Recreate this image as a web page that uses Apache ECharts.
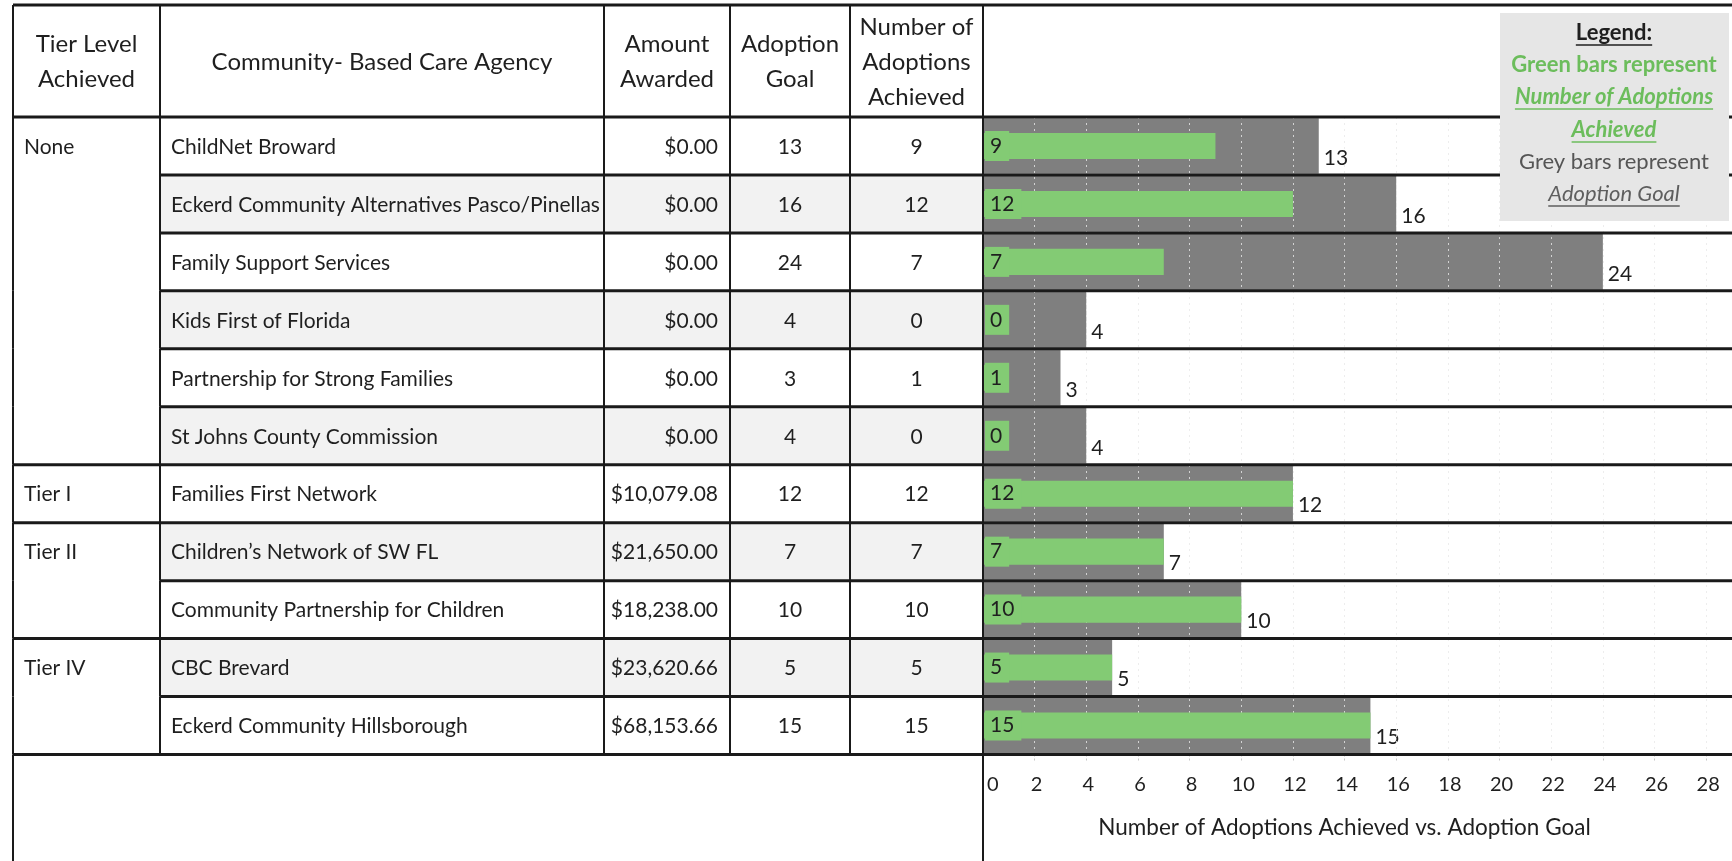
<!DOCTYPE html>
<html>
<head>
<meta charset="utf-8">
<script src="https://cdn.jsdelivr.net/npm/echarts@6/dist/echarts.min.js"></script>
<style>
  html, body { margin: 0; padding: 0; background: #fff; }
  #c { width: 1732px; height: 861px; }
</style>
</head>
<body>
<div id="c"></div>
<script>
// ---------------- DATA ----------------
const tiers = ['None', 'None', 'None', 'None', 'None', 'None', 'Tier I', 'Tier II', 'Tier II', 'Tier IV', 'Tier IV'];
const agencies = [
  'ChildNet Broward',
  'Eckerd Community Alternatives Pasco/Pinellas',
  'Family Support Services',
  'Kids First of Florida',
  'Partnership for Strong Families',
  'St Johns County Commission',
  'Families First Network',
  'Children\u2019s Network of SW FL',
  'Community Partnership for Children',
  'CBC Brevard',
  'Eckerd Community Hillsborough'
];
const amounts = ['$0.00', '$0.00', '$0.00', '$0.00', '$0.00', '$0.00', '$10,079.08', '$21,650.00', '$18,238.00', '$23,620.66', '$68,153.66'];
const goals = [13, 16, 24, 4, 3, 4, 12, 7, 10, 5, 15];
const achieved = [9, 12, 7, 0, 1, 0, 12, 7, 10, 5, 15];
const headers = ['Tier Level\nAchieved', 'Community- Based Care Agency', 'Amount\nAwarded', 'Adoption\nGoal', 'Number of\nAdoptions\nAchieved'];
const axisTitle = 'Number of Adoptions Achieved vs. Adoption Goal';
const axisMin = 0, axisMax = 29, axisStep = 2;
const legendLines = ['Legend:', 'Green bars represent', 'Number of Adoptions', 'Achieved', 'Grey bars represent', 'Adoption Goal'];

// ---------------- LAYOUT / STYLE ----------------
const W = 1732, H = 861;
const FONT = "Lato, 'Noto Sans', sans-serif";
const colX = [13, 160, 604, 730, 850, 983];
const TOP = 5, HEAD_BOTTOM = 117, TABLE_BOTTOM = 754.5;
const BODY = 21, HEAD = 24;
const TXT = '#1f1f1f';
const LINE = '#1a1a1a';
const GREEN = '#83cb74', GREY = '#7f7f7f';

const chart = echarts.init(document.getElementById('c'), null, { renderer: 'canvas', width: W, height: H });

const measureCtx = document.createElement('canvas').getContext('2d');
function textWidth(s, font) { measureCtx.font = font; return measureCtx.measureText(s).width; }

function renderRow(params, api) {
  const i = params.dataIndex;
  const c = api.coord([0, i]);
  const h = api.size([0, 1])[1];
  const yc = c[1], y0 = yc - h / 2, y1 = yc + h / 2;
  const ch = [];
  if (i % 2 === 1) {
    ch.push({ type: 'rect', shape: { x: colX[1], y: y0, width: colX[5] - colX[1], height: h }, style: { fill: '#f2f2f2' }, z2: 0 });
  }
  const txt = (x, s, align) => ({
    type: 'text', x: x, y: yc + 1,
    style: { text: s, align: align, verticalAlign: 'middle', fontSize: BODY, fontFamily: FONT, fill: TXT }, z2: 2
  });
  const firstOfGroup = i === 0 || tiers[i - 1] !== tiers[i];
  const groupEnd = i === agencies.length - 1 || tiers[i + 1] !== tiers[i];
  if (firstOfGroup) ch.push(txt(colX[0] + 11, tiers[i], 'left'));
  ch.push(txt(colX[1] + 11, agencies[i], 'left'));
  ch.push(txt(colX[3] - 12, amounts[i], 'right'));
  ch.push(txt((colX[3] + colX[4]) / 2, String(goals[i]), 'center'));
  ch.push(txt((colX[4] + colX[5]) / 2, String(achieved[i]), 'center'));
  if (i === 0) {
    ch.push({ type: 'line', shape: { x1: colX[0], y1: y0, x2: W, y2: y0 }, style: { stroke: LINE, lineWidth: 3 }, z2: 5 });
  }
  ch.push({ type: 'line', shape: { x1: groupEnd ? colX[0] : colX[1], y1: y1, x2: W, y2: y1 }, style: { stroke: LINE, lineWidth: 3 }, z2: 5 });
  colX.forEach(x => {
    ch.push({ type: 'line', shape: { x1: x, y1: y0, x2: x, y2: y1 }, style: { stroke: LINE, lineWidth: 2 }, z2: 5 });
  });
  return { type: 'group', children: ch };
}

// header + frame graphics
const graphics = [];
graphics.push({ type: 'line', shape: { x1: colX[0], y1: TOP, x2: W, y2: TOP }, style: { stroke: LINE, lineWidth: 3 }, z: 20 });
colX.forEach(x => {
  graphics.push({ type: 'line', shape: { x1: x, y1: TOP, x2: x, y2: HEAD_BOTTOM }, style: { stroke: LINE, lineWidth: 2 }, z: 20 });
});
[colX[0], colX[5]].forEach(x => {
  graphics.push({ type: 'line', shape: { x1: x, y1: TABLE_BOTTOM, x2: x, y2: H }, style: { stroke: LINE, lineWidth: 2 }, z: 20 });
});
const headCenters = [(colX[0] + colX[1]) / 2, (colX[1] + colX[2]) / 2, (colX[2] + colX[3]) / 2, (colX[3] + colX[4]) / 2, (colX[4] + colX[5]) / 2];
headers.forEach((t, k) => {
  graphics.push({
    type: 'text', x: headCenters[k], y: (TOP + HEAD_BOTTOM) / 2 + 1,
    style: { text: t, align: 'center', verticalAlign: 'middle', fontSize: HEAD, fontFamily: FONT, fill: TXT, lineHeight: 35 }, z: 20
  });
});

// legend box
const LEG = { x: 1500, y: 13, w: 229, h: 208, cx: 1614 };
graphics.push({ type: 'rect', shape: { x: LEG.x, y: LEG.y, width: LEG.w, height: LEG.h }, style: { fill: '#e6e6e6' }, z: 30 });
const legStyles = [
  { fill: '#1f1f1f', fontWeight: 'bold', fontStyle: 'normal', underline: true },
  { fill: '#6cbd5c', fontWeight: 'bold', fontStyle: 'normal', underline: false },
  { fill: '#6cbd5c', fontWeight: 'bold', fontStyle: 'italic', underline: true },
  { fill: '#6cbd5c', fontWeight: 'bold', fontStyle: 'italic', underline: true },
  { fill: '#555555', fontWeight: 'normal', fontStyle: 'normal', underline: false },
  { fill: '#5e5e5e', fontWeight: 'normal', fontStyle: 'italic', underline: true }
];
const legY = [33, 65, 97, 130, 162, 194];
const LEG_FS = 22;
legendLines.forEach((t, k) => {
  const st = legStyles[k];
  graphics.push({
    type: 'text', x: LEG.cx, y: legY[k],
    style: { text: t, align: 'center', verticalAlign: 'middle', fontSize: LEG_FS, fontFamily: FONT, fontWeight: st.fontWeight, fontStyle: st.fontStyle, fill: st.fill }, z: 31
  });
  if (st.underline) {
    const w = textWidth(t, `${st.fontStyle} ${st.fontWeight} ${LEG_FS}px ${FONT}`);
    graphics.push({ type: 'line', shape: { x1: LEG.cx - w / 2, y1: legY[k] + 12, x2: LEG.cx + w / 2, y2: legY[k] + 12 }, style: { stroke: st.fill, lineWidth: 1.5 }, z: 31 });
  }
});

const option = {
  animation: false,
  backgroundColor: '#ffffff',
  grid: { left: colX[5], right: 0, top: HEAD_BOTTOM, bottom: H - TABLE_BOTTOM, containLabel: false },
  xAxis: {
    type: 'value', min: axisMin, max: axisMax, interval: axisStep, z: 1,
    axisLine: { show: false },
    axisTick: { show: true, length: 8, lineStyle: { color: '#c8c8c8', type: [2, 2] } },
    axisLabel: { fontSize: 20, fontFamily: FONT, color: TXT, margin: 20, showMaxLabel: false, alignMinLabel: 'left', padding: [0, 0, 0, 4] },
    splitLine: { show: true, lineStyle: { color: 'rgba(232,232,232,0.8)', type: [2, 4], width: 1 } },
    name: axisTitle, nameLocation: 'middle', nameGap: 62,
    nameTextStyle: { fontSize: 22.5, fontFamily: FONT, color: TXT, padding: [0, 26, 0, 0] }
  },
  yAxis: [
    { type: 'category', data: agencies, inverse: true, show: false },
    { type: 'category', data: agencies, inverse: true, show: false }
  ],
  series: [
    {
      type: 'bar', name: 'Adoption Goal', data: goals, yAxisIndex: 0, z: 0,
      barWidth: '96%', itemStyle: { color: GREY },
      label: { show: true, position: 'right', distance: 5, offset: [0, 12], fontSize: BODY, fontFamily: FONT, color: TXT }
    },
    {
      type: 'bar', name: 'Number of Adoptions Achieved', data: achieved, yAxisIndex: 1, z: 2,
      barWidth: '45%', itemStyle: { color: GREEN },
      label: { show: true, position: 'insideLeft', distance: 2, fontSize: BODY, fontFamily: FONT, color: TXT,
               backgroundColor: GREEN, padding: [5, 7, 4, 5] }
    },
    {
      type: 'custom', name: 'table', clip: false, z: 5, silent: true,
      data: agencies.map((a, i) => [0, i]), encode: { x: 0, y: 1 },
      renderItem: renderRow
    }
  ],
  graphic: graphics
};
chart.setOption(option);
</script>
</body>
</html>
